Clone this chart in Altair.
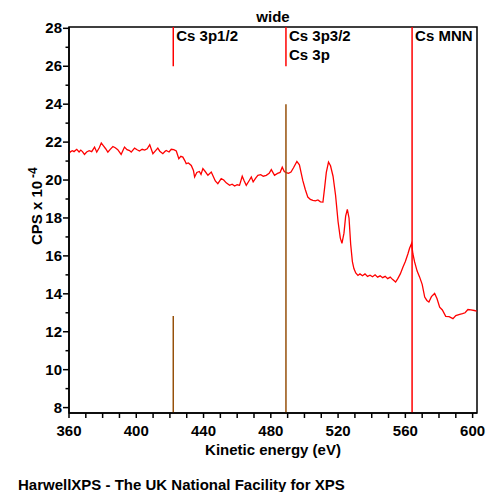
import altair as alt
import pandas as pd

# Spectrum (kinetic energy eV, CPS x 10^-4)
ev = [360, 361, 362, 363, 364.6, 366, 367, 368, 369.2, 370.5, 372, 373.5, 375.2, 376.5, 378,
      379.2, 380.5, 381.8, 383.1, 384.5, 386.1, 387.5, 389, 391, 392, 393, 394.5, 396, 397, 399,
      400.5, 401.9, 403.5, 405, 406.5, 408, 409.9, 411.5, 412.8, 414, 415.8, 417, 417.8, 419.5,
      420.8, 422.3, 423.8, 425.3, 426.5, 427.7, 429, 429.7, 431, 432.7, 434, 434.7, 436, 437.5,
      438.5, 439.6, 441, 442.6, 444.6, 446, 447, 448.5, 450.5, 452, 453.5, 455.5, 457, 458.5,
      460, 461.4, 463, 464.2, 465.4, 467, 468.4, 469.5, 471, 472.3, 474, 475.5, 477.3, 479,
      480.3, 482.2, 484, 485.5, 486.8, 488, 489.2, 490.5, 492, 493.5, 495.5, 497, 499, 500.5,
      502, 503.5, 505, 506.5, 508, 509.5, 511, 512, 513, 514.3, 515.5, 517, 518.5, 520, 521.3,
      522.3, 523.5, 524.5, 525.5, 526.5, 527.5, 528.5, 529.4, 530.5, 531.8, 533, 534.5, 536,
      537.5, 539, 540.5, 542, 543.5, 545, 546.5, 548, 549.5, 551, 552.5, 554.2, 555.5, 557,
      558.6, 560, 561.5, 562.5, 563.7, 564.5, 565.5, 567, 568.5, 570, 571.5, 572.8, 574, 575.5,
      577.4, 578.8, 580.4, 582, 584, 586, 588.3, 590, 592.3, 594, 595.5, 597.2, 599, 601, 602.4]
cps = [21.40, 21.50, 21.55, 21.50, 21.62, 21.48, 21.58, 21.50, 21.35, 21.48, 21.55, 21.50, 21.74,
       21.47, 21.70, 21.95, 21.80, 21.65, 21.47, 21.62, 21.77, 21.70, 21.60, 21.35, 21.55, 21.74,
       21.60, 21.55, 21.47, 21.68, 21.60, 21.53, 21.62, 21.58, 21.65, 21.86, 21.39, 21.55, 21.68,
       21.52, 21.39, 21.50, 21.56, 21.48, 21.62, 21.60, 21.53, 21.13, 21.25, 21.21, 21.00, 20.86,
       20.90, 20.77, 20.50, 20.16, 20.40, 20.45, 20.30, 20.60, 20.45, 20.25, 20.42, 20.15, 19.95,
       19.81, 20.07, 20.00, 19.85, 19.72, 19.78, 19.68, 19.75, 19.72, 20.20, 19.95, 19.72, 19.95,
       20.16, 19.90, 20.10, 20.25, 20.28, 20.20, 20.25, 20.35, 20.55, 20.25, 20.35, 20.40, 20.68,
       20.45, 20.39, 20.35, 20.42, 20.65, 20.98, 20.80, 19.98, 19.50, 19.10, 18.98, 18.93, 18.90,
       18.95, 18.85, 18.84, 19.60, 20.40, 20.95, 20.75, 20.20, 19.20, 17.80, 16.95, 16.66, 17.20,
       18.10, 18.45, 18.00, 16.60, 15.70, 15.33, 15.10, 14.97, 15.05, 14.95, 15.05, 14.92, 14.98,
       14.90, 15.00, 14.88, 14.95, 14.85, 14.92, 14.80, 14.88, 14.75, 14.62, 14.80, 15.05, 15.41,
       15.70, 16.10, 16.40, 16.65, 16.10, 15.68, 15.20, 14.88, 14.50, 13.83, 13.65, 13.57, 13.85,
       14.02, 13.75, 13.30, 13.15, 12.81, 12.80, 12.69, 12.85, 12.92, 12.95, 13.00, 13.17, 13.15,
       13.12, 13.09]

# Peak markers
peak_names = ["Cs 3p1/2", "Cs 3p3/2\nCs 3p", "Cs MNN"]
peak_ev = [422, 489, 564]
red_low = [26.0, 26.0, 7.715]      # red marker runs from the top down to this value
brown_high = [12.83, 24.0, None]   # brown marker runs from the bottom up to this value

x_min, x_max = 360, 602.6
y_min, y_max = 7.715, 28.07
x_ticks = list(range(360, 601, 10))
x_labels = list(range(360, 601, 40))
y_ticks = list(range(8, 29))
y_labels = list(range(8, 29, 2))

title_text = "wide"
y_title = "CPS x 10"
y_title_exp = "-4"
x_title = "Kinetic energy (eV)"
footer = "HarwellXPS - The UK National Facility for XPS"
font = "Liberation Sans"

W, H = 408, 386

spec = pd.DataFrame({"ev": ev, "cps": cps})
peaks = pd.DataFrame({"name": peak_names, "ev": peak_ev, "low": red_low,
                      "high": brown_high, "top": [y_max] * 3, "bottom": [y_min] * 3})
xt = pd.DataFrame({"v": x_ticks})
xl = pd.DataFrame({"v": x_labels})
yt = pd.DataFrame({"v": y_ticks, "major": [v % 2 == 0 for v in y_ticks]})
yl = pd.DataFrame({"v": y_labels})

xs = alt.Scale(domain=[x_min, x_max], nice=False, zero=False)
ys = alt.Scale(domain=[y_min, y_max], nice=False, zero=False)

X = lambda f: alt.X(f, scale=xs, axis=None)
Y = lambda f: alt.Y(f, scale=ys, axis=None)

line = alt.Chart(spec).mark_line(color="#ff0000", strokeWidth=1.3, clip=True).encode(
    x=X("ev:Q"), y=Y("cps:Q"))

# axis lines along the frame
frame = alt.Chart(xl.head(1)).mark_rule(color="black", strokeWidth=1.5).encode(
    x=alt.value(0), x2=alt.value(W), y=alt.value(H))
frame_y = alt.Chart(xl.head(1)).mark_rule(color="black", strokeWidth=1.5).encode(
    x=alt.value(0), y=alt.value(0), y2=alt.value(H))

x_tick_marks = alt.Chart(xt).mark_rule(color="black", strokeWidth=1.5).encode(
    x=X("v:Q"), y=alt.value(H), y2=alt.value(H + 5))
x_label_marks = alt.Chart(xl).mark_text(
    font=font, fontSize=15, fontWeight="bold", color="black", baseline="alphabetic",
    align="center").encode(x=X("v:Q"), y=alt.value(H + 23), text="v:Q")

y_major_marks = alt.Chart(yt).transform_filter("datum.major").mark_rule(
    color="black", strokeWidth=1.5).encode(y=Y("v:Q"), x=alt.value(-6), x2=alt.value(0))
y_minor_marks = alt.Chart(yt).transform_filter("!datum.major").mark_rule(
    color="black", strokeWidth=1.5).encode(y=Y("v:Q"), x=alt.value(-3.5), x2=alt.value(0))
y_label_marks = alt.Chart(yl).mark_text(
    font=font, fontSize=15, fontWeight="bold", color="black", baseline="middle",
    align="right").encode(y=Y("v:Q"), x=alt.value(-7), text="v:Q")

red_rules = alt.Chart(peaks).mark_rule(color="#ff0000", strokeWidth=1.5).encode(
    x=X("ev:Q"), y=Y("top:Q"), y2="low:Q")

brown_rules = alt.Chart(peaks).transform_filter("datum.high != null").mark_rule(
    color="#96500a", strokeWidth=1.5).encode(x=X("ev:Q"), y=Y("bottom:Q"), y2="high:Q")

labels = alt.Chart(peaks).mark_text(
    align="left", baseline="alphabetic", dx=3, dy=14, font=font, fontSize=15,
    fontWeight="bold", color="black", lineBreak="\n", lineHeight=19).encode(
    x=X("ev:Q"), y=Y("top:Q"), text="name:N")

texts = pd.DataFrame({"t": [title_text, y_title, y_title_exp, footer, x_title]})


def txt(i, **kw):
    return alt.Chart(texts).transform_filter(f"datum.t == {texts.t[i]!r}").mark_text(
        font=font, fontWeight="bold", color="black", baseline="alphabetic", **kw)


title_mark = txt(0, align="center", fontSize=15).encode(
    x=alt.value(W / 2), y=alt.value(-4.7), text="t:N")
ytitle_mark = txt(1, align="left", fontSize=15, angle=270).encode(
    x=alt.value(-27), y=alt.value(218), text="t:N")
yexp_mark = txt(2, align="left", fontSize=12, angle=270).encode(
    x=alt.value(-32), y=alt.value(151), text="t:N")
foot_mark = txt(3, align="left", fontSize=15).encode(
    x=alt.value(-51), y=alt.value(463), text="t:N")
xtitle_mark = txt(4, align="center", fontSize=15).encode(
    x=alt.value(W / 2), y=alt.value(H + 41.5), text="t:N")

chart = alt.layer(line, red_rules, brown_rules, labels, frame, frame_y,
                  x_tick_marks, x_label_marks, y_major_marks, y_minor_marks, y_label_marks,
                  title_mark, ytitle_mark, yexp_mark, foot_mark, xtitle_mark).properties(
    width=W, height=H,
    autosize="none",
    padding={"left": 61, "top": 19, "right": 15, "bottom": 79},
).configure_view(stroke="black", strokeWidth=1.5)

chart.save("out.html", embed_options={"renderer": "svg", "actions": False})
